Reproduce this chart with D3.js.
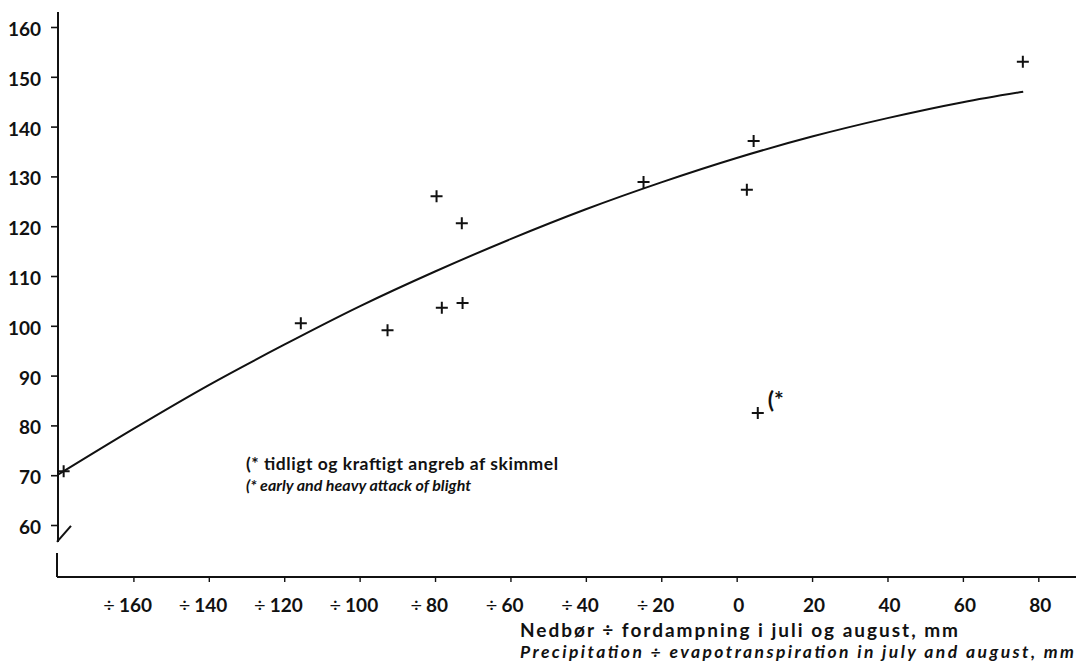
<!DOCTYPE html>
<html>
<head>
<meta charset="utf-8">
<script src="https://cdn.jsdelivr.net/npm/d3@7"></script>
<style>
  html, body { margin: 0; padding: 0; background: #fff; }
  svg { display: block; }
  text { font-family: Lato, "Open Sans", sans-serif; fill: #111; }
</style>
</head>
<body>
<svg id="chart" width="1082" height="663"></svg>
<script>
// ---- data ----
const pointX = [-178.5, -115.6, -92.6, -78.2, -72.7, -79.6, -72.9, -24.7, 2.7, 4.5, 75.9];
const pointY = [70.8, 100.5, 99.1, 103.6, 104.6, 126.0, 120.6, 128.9, 127.3, 137.1, 153.0];
const outlierX = [5.6];
const outlierY = [82.5];
const curveX = [-180, -160, -140, -120, -100, -80, -60, -40, -20, 0, 20, 40, 60, 76];
const curveY = [70.1, 79.3, 88.1, 96.2, 103.9, 110.9, 117.4, 123.4, 128.8, 133.7, 138.0, 141.7, 144.9, 147.0];
const yTicks = [60, 70, 80, 90, 100, 110, 120, 130, 140, 150, 160];
const xTicks = [-160, -140, -120, -100, -80, -60, -40, -20, 0, 20, 40, 60, 80];
const xTitle1 = "Nedbør ÷ fordampning i juli og august, mm";
const xTitle2 = "Precipitation ÷  evapotranspiration in july and august, mm";
const note1 = "(* tidligt og kraftigt angreb af skimmel";
const note2 = "(* early and heavy attack of blight";
const outlierMark = "(*";

// ---- layout ----
const svg = d3.select("#chart");
const x = d3.scaleLinear().domain([-180, 90]).range([58, 1076]);
const y = d3.scaleLinear().domain([60, 160]).range([525, 27]);
const axisY = 577;       // pixel row of the x axis
const yTop = 163;        // top of y axis line (value)
const breakHi = 56.6;    // break: upper segment ends (value)
const breakLo = 54.4;    // break: lower segment starts (value)

const black = "#111";

// y axis line with break
const y0 = x(-180);
svg.append("line").attr("x1", y0).attr("x2", y0)
  .attr("y1", y(yTop)).attr("y2", y(breakHi))
  .attr("stroke", black).attr("stroke-width", 2);
svg.append("line").attr("x1", y0 - 1).attr("x2", y0 + 13)
  .attr("y1", y(breakHi)).attr("y2", y(breakHi) - 16)
  .attr("stroke", black).attr("stroke-width", 2);
svg.append("line").attr("x1", y0 - 1).attr("x2", y0 - 1)
  .attr("y1", y(breakLo)).attr("y2", axisY)
  .attr("stroke", black).attr("stroke-width", 2);

// y axis ticks and labels
const yAxis = d3.axisLeft(y).tickValues(yTicks).tickSize(7).tickPadding(10).tickFormat(d3.format("d"));
const gy = svg.append("g").attr("transform", `translate(${y0},0)`).call(yAxis);
gy.select(".domain").remove();
gy.selectAll(".tick line").attr("stroke", black).attr("stroke-width", 1.6);
gy.selectAll(".tick text").attr("font-family", "Lato, sans-serif")
  .attr("font-size", 19).attr("font-weight", "bold").attr("fill", black)
  .attr("dy", "0.45em");

// x axis
const xAxis = d3.axisBottom(x).tickValues(xTicks).tickSize(5).tickFormat("");
const gx = svg.append("g").attr("transform", `translate(0,${axisY})`).call(xAxis);
gx.select(".domain").attr("stroke", black).attr("stroke-width", 2)
  .attr("d", `M${x(-180) - 1},0H${x(90)}`);
gx.selectAll(".tick line").attr("stroke", black).attr("stroke-width", 1.4);

// x tick labels: number centered on tick, "÷" hanging to the left
const xl = svg.append("g");
xTicks.forEach(v => {
  const t = xl.append("text").attr("x", x(v) + 2).attr("y", 612)
    .attr("text-anchor", "middle").attr("font-size", 19).attr("font-weight", "bold")
    .text(Math.abs(v));
  if (v < 0) {
    const w = t.node().getComputedTextLength();
    xl.append("text").attr("x", x(v) + 2 - w / 2 - 4).attr("y", 612)
      .attr("text-anchor", "end").attr("font-size", 20).attr("font-weight", "normal")
      .text("÷");
  }
});

// axis titles
svg.append("text").attr("x", 520).attr("y", 637).attr("font-size", 19)
  .attr("font-weight", "bold").attr("textLength", 438).attr("lengthAdjust", "spacing")
  .text(xTitle1);
svg.append("text").attr("x", 520).attr("y", 658).attr("font-size", 17.5)
  .attr("font-style", "italic").attr("font-weight", "bold")
  .attr("textLength", 554).attr("lengthAdjust", "spacing").text(xTitle2);

// curve
const line = d3.line().x(d => x(d[0])).y(d => y(d[1])).curve(d3.curveMonotoneX);
svg.append("path").datum(curveX.map((v, i) => [v, curveY[i]]))
  .attr("d", line).attr("fill", "none").attr("stroke", black).attr("stroke-width", 2);

// plus markers
const plus = "M-6,0H6M0,-6V6";
const pts = pointX.map((v, i) => [v, pointY[i]]).concat(outlierX.map((v, i) => [v, outlierY[i]]));
svg.append("g").selectAll("path").data(pts).join("path")
  .attr("transform", d => `translate(${x(d[0])},${y(d[1])})`)
  .attr("d", plus).attr("stroke", black).attr("stroke-width", 2).attr("fill", "none");

// outlier mark
svg.append("text").attr("x", x(outlierX[0]) + 10).attr("y", y(outlierY[0]) - 5)
  .attr("font-size", 23).attr("font-weight", "bold").text(outlierMark);

// notes
svg.append("text").attr("x", 246).attr("y", 470).attr("font-size", 17.5)
  .attr("font-weight", "bold").attr("textLength", 312).attr("lengthAdjust", "spacing")
  .text(note1);
svg.append("text").attr("x", 246).attr("y", 491).attr("font-size", 16)
  .attr("font-style", "italic").attr("font-weight", "bold").text(note2);
</script>
</body>
</html>
